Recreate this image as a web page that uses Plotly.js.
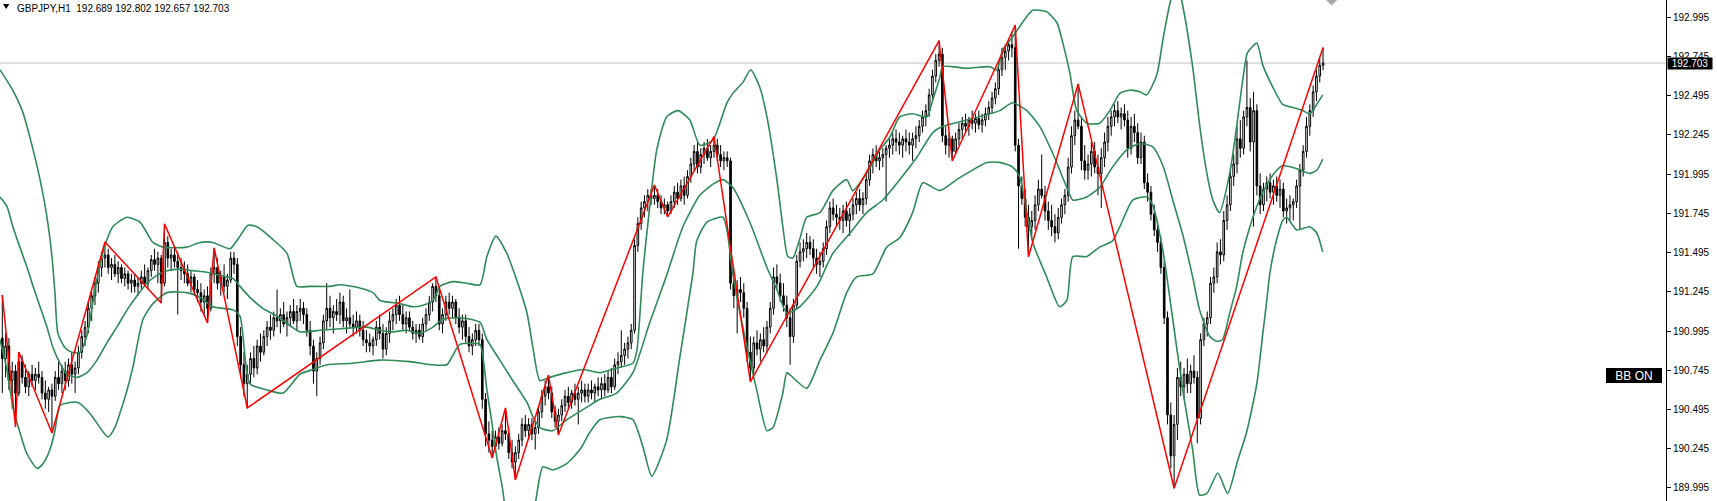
<!DOCTYPE html>
<html>
<head>
<meta charset="utf-8">
<script src="https://cdn.plot.ly/plotly-3.0.1.min.js"></script>
<style>html,body{margin:0;padding:0;background:#fff;}#chart{width:1717px;height:501px;}</style>
</head>
<body>
<div id="chart"></div>
<script>
// ---- OHLC data (GBPJPY H1), one value per bar ----
const opens = [
190.95,190.82,190.90,190.68,190.74,190.60,190.80,190.70,190.64,190.72,190.68,190.72,190.70,190.60,190.56,190.62,190.58,190.70,190.66,190.74,
190.68,190.78,190.72,190.76,190.86,190.96,191.02,191.14,191.22,191.30,191.40,191.46,191.48,191.40,191.42,191.36,191.40,191.33,191.36,191.30,
191.32,191.28,191.30,191.34,191.30,191.38,191.45,191.42,191.46,191.30,191.56,191.46,191.48,191.44,191.40,191.38,191.36,191.30,191.34,191.26,
191.24,191.18,191.22,191.14,191.36,191.40,191.30,191.34,191.28,191.32,191.46,191.42,190.96,190.78,190.66,190.72,190.82,190.76,190.90,190.86,
190.96,191.02,191.00,191.08,191.06,191.10,191.04,191.08,191.12,191.06,191.12,191.14,191.10,191.00,190.90,190.74,190.82,190.92,191.06,191.14,
191.08,191.12,191.10,191.18,191.06,191.08,191.04,191.02,191.06,191.00,190.94,190.92,190.90,190.94,191.02,190.98,190.88,190.98,191.06,191.10,
191.16,191.10,191.04,191.08,191.02,190.98,191.00,190.96,191.04,191.10,191.18,191.28,191.22,191.04,191.10,191.18,191.14,191.18,191.08,191.02,
191.06,190.96,190.90,190.94,191.00,190.94,190.56,190.34,190.30,190.26,190.32,190.28,190.36,190.34,190.22,190.16,190.22,190.30,190.40,190.36,
190.40,190.34,190.38,190.48,190.58,190.64,190.60,190.48,190.42,190.46,190.52,190.58,190.54,190.60,190.56,190.60,190.62,190.58,190.62,190.60,
190.64,190.62,190.66,190.62,190.70,190.64,190.78,190.80,190.84,190.88,190.92,191.00,191.54,191.68,191.78,191.82,191.86,191.84,191.86,191.82,
191.78,191.80,191.76,191.82,191.88,191.84,191.92,191.86,191.98,192.06,192.14,192.04,192.12,192.16,192.10,192.14,192.18,192.12,192.08,192.10,
192.08,191.30,191.22,191.26,191.24,191.14,190.86,190.76,190.92,190.88,190.94,190.90,191.02,191.14,191.34,191.30,191.22,191.16,191.08,190.96,
191.16,191.44,191.50,191.52,191.56,191.52,191.46,191.42,191.44,191.52,191.66,191.78,191.74,191.72,191.70,191.76,191.70,191.74,191.80,191.84,
191.80,191.84,191.96,192.08,192.12,192.08,192.10,192.12,192.16,192.18,192.22,192.20,192.18,192.22,192.20,192.18,192.22,192.24,192.30,192.36,
192.40,192.50,192.62,192.72,192.76,192.24,192.18,192.22,192.14,192.22,192.28,192.32,192.30,192.34,192.32,192.35,192.31,192.34,192.38,192.42,
192.48,192.54,192.66,192.74,192.78,192.82,192.80,192.18,191.92,191.84,191.72,191.66,191.70,191.80,191.90,191.86,191.76,191.70,191.66,191.62,
191.72,191.80,191.86,192.04,192.24,192.34,192.30,192.08,192.02,192.06,192.14,192.04,192.00,192.10,192.20,192.30,192.36,192.40,192.36,192.38,
192.34,192.16,192.30,192.26,192.10,192.20,191.94,191.88,191.74,191.64,191.56,191.40,191.08,190.46,190.20,190.40,190.70,190.64,190.72,190.66,
190.74,190.70,190.44,190.94,191.04,191.08,191.30,191.34,191.50,191.48,191.70,191.80,191.98,192.06,192.22,192.16,192.36,192.42,192.20,192.40,
191.92,191.80,191.90,191.94,191.88,191.92,191.86,191.90,191.76,191.78,191.80,191.82,191.92,192.02,192.14,192.30,192.40,192.52,192.62,192.689
];
const highs = [
191.225,190.98,190.95,190.80,190.78,190.862,190.84,190.78,190.74,190.78,190.76,190.80,190.74,190.68,190.64,190.66,190.74,190.80,190.78,190.80,
190.82,190.86,190.80,190.90,191.00,191.06,191.18,191.26,191.34,191.44,191.50,191.563,191.52,191.46,191.48,191.44,191.42,191.40,191.38,191.36,
191.36,191.34,191.38,191.42,191.40,191.48,191.52,191.50,191.48,191.678,191.60,191.52,191.54,191.50,191.46,191.44,191.42,191.38,191.36,191.32,
191.30,191.26,191.28,191.40,191.525,191.46,191.38,191.42,191.36,191.50,191.50,191.46,191.02,190.86,190.78,190.86,190.90,190.94,190.98,191.00,
191.06,191.10,191.12,191.26,191.14,191.18,191.12,191.16,191.20,191.16,191.20,191.18,191.14,191.06,190.94,190.86,190.96,191.10,191.30,191.22,
191.16,191.20,191.24,191.22,191.14,191.26,191.10,191.12,191.10,191.06,191.00,190.98,190.96,191.06,191.10,191.04,191.02,191.12,191.14,191.20,
191.22,191.16,191.12,191.12,191.06,191.04,191.04,191.08,191.14,191.22,191.30,191.340,191.28,191.14,191.22,191.24,191.22,191.20,191.14,191.10,
191.10,191.02,190.98,191.04,191.04,190.98,190.60,190.42,190.36,190.36,190.38,190.40,190.505,190.38,190.30,190.26,190.34,190.44,190.46,190.44,
190.44,190.42,190.52,190.62,190.68,190.715,190.64,190.52,190.50,190.56,190.62,190.64,190.62,190.66,190.64,190.68,190.66,190.66,190.68,190.66,
190.70,190.70,190.72,190.74,190.76,190.82,190.86,191.00,190.92,190.96,191.04,191.58,191.72,191.82,191.86,191.90,191.90,191.926,191.90,191.86,
191.84,191.82,191.86,191.92,191.94,191.96,191.98,192.02,192.10,192.18,192.20,192.16,192.20,192.22,192.18,192.234,192.22,192.18,192.14,192.14,
192.10,191.38,191.32,191.34,191.30,191.18,190.96,190.96,191.00,190.98,191.02,191.06,191.18,191.40,191.42,191.36,191.30,191.22,191.14,191.20,
191.48,191.56,191.58,191.62,191.60,191.58,191.52,191.50,191.56,191.70,191.82,191.84,191.80,191.78,191.80,191.82,191.78,191.84,191.88,191.90,
191.88,192.00,192.12,192.16,192.18,192.14,192.16,192.18,192.22,192.26,192.28,192.26,192.24,192.28,192.26,192.26,192.30,192.34,192.40,192.44,
192.54,192.66,192.76,192.846,192.80,192.30,192.26,192.24,192.26,192.32,192.36,192.38,192.36,192.40,192.38,192.40,192.38,192.42,192.46,192.52,
192.58,192.70,192.80,192.82,192.86,192.90,192.946,192.22,191.98,191.90,191.80,191.76,191.86,191.96,192.12,191.92,191.82,191.80,191.74,191.78,
191.84,191.90,192.10,192.30,192.40,192.570,192.36,192.18,192.12,192.20,192.20,192.12,192.16,192.26,192.36,192.40,192.44,192.46,192.42,192.44,
192.40,192.36,192.38,192.32,192.26,192.24,192.00,191.92,191.80,191.70,191.60,191.44,191.12,190.54,190.46,190.76,190.80,190.76,190.82,190.78,
190.84,190.74,190.98,191.08,191.12,191.34,191.40,191.56,191.58,191.76,191.86,192.04,192.12,192.30,192.34,192.40,192.72,192.48,192.52,192.44,
192.00,191.94,191.98,192.00,191.96,191.98,191.96,191.94,191.84,191.86,191.84,191.96,192.06,192.18,192.36,192.44,192.56,192.66,192.74,192.802
];
const lows = [
190.60,190.70,190.62,190.50,190.384,190.58,190.66,190.60,190.58,190.64,190.62,190.66,190.56,190.50,190.48,190.345,190.55,190.62,190.60,190.62,
190.64,190.66,190.60,190.72,190.82,190.90,190.98,191.06,191.16,191.24,191.34,191.40,191.36,191.32,191.34,191.30,191.30,191.28,191.26,191.24,
191.24,191.22,191.26,191.28,191.26,191.34,191.38,191.30,191.174,191.28,191.40,191.38,191.40,191.10,191.32,191.30,191.28,191.24,191.22,191.18,
191.12,191.10,191.047,191.12,191.30,191.26,191.22,191.24,191.20,191.30,191.36,190.90,190.70,190.58,190.505,190.66,190.70,190.72,190.80,190.84,
190.90,190.94,190.96,191.02,190.98,191.02,190.96,191.02,191.04,191.00,191.06,191.04,190.96,190.84,190.66,190.58,190.78,190.88,191.00,191.02,
190.98,191.06,191.04,191.02,190.98,191.02,190.96,190.98,190.96,190.90,190.86,190.86,190.84,190.90,190.94,190.82,190.84,190.92,191.00,191.04,
191.06,191.00,190.98,191.00,190.94,190.92,190.94,190.92,191.00,191.06,191.12,191.18,191.00,190.98,191.06,191.10,191.08,191.04,190.98,190.94,
190.92,190.86,190.84,190.90,190.90,190.50,190.26,190.22,190.186,190.22,190.24,190.26,190.30,190.18,190.12,190.046,190.18,190.26,190.32,190.30,
190.30,190.24,190.34,190.44,190.52,190.56,190.44,190.38,190.333,190.42,190.48,190.50,190.50,190.52,190.40,190.54,190.54,190.54,190.56,190.54,
190.58,190.56,190.58,190.60,190.60,190.62,190.72,190.76,190.78,190.82,190.88,190.98,191.50,191.64,191.72,191.76,191.80,191.80,191.78,191.74,
191.74,191.722,191.74,191.78,191.80,191.82,191.80,191.84,191.94,192.02,192.00,192.00,192.06,192.08,192.04,192.10,192.08,192.04,192.02,192.04,
191.26,191.14,190.98,191.18,191.08,190.80,190.671,190.72,190.84,190.80,190.86,190.86,190.98,191.10,191.26,191.18,191.12,191.02,190.78,190.92,
191.14,191.40,191.44,191.46,191.48,191.40,191.36,191.34,191.40,191.48,191.62,191.70,191.66,191.64,191.62,191.66,191.60,191.70,191.74,191.76,
191.74,191.80,191.92,192.00,192.04,192.02,192.04,191.82,192.10,192.12,192.14,192.12,192.10,192.14,192.12,192.08,192.16,192.20,192.26,192.30,
192.36,192.46,192.58,192.68,192.20,192.12,192.10,192.079,192.12,192.18,192.22,192.26,192.24,192.28,192.26,192.28,192.26,192.30,192.34,192.38,
192.44,192.50,192.62,192.66,192.72,192.74,192.14,191.52,191.80,191.66,191.469,191.58,191.64,191.76,191.84,191.70,191.64,191.60,191.56,191.58,
191.68,191.74,191.82,192.00,192.18,192.28,192.02,191.96,191.96,191.98,192.00,191.86,191.78,192.04,192.14,192.24,192.30,192.32,192.28,192.30,
192.10,192.12,192.20,192.06,192.06,191.90,191.82,191.70,191.60,191.50,191.36,191.04,190.40,190.12,189.993,190.30,190.58,190.56,190.60,190.60,
190.66,190.28,190.40,190.90,190.96,191.04,191.24,191.30,191.42,191.44,191.64,191.76,191.92,192.00,192.10,192.12,192.30,192.14,191.66,191.86,
191.74,191.76,191.82,191.84,191.80,191.82,191.78,191.72,191.68,191.70,191.70,191.78,191.64,191.98,192.10,192.24,192.36,192.46,192.58,192.657
];
const closes = [
190.82,190.90,190.68,190.74,190.60,190.80,190.70,190.64,190.72,190.68,190.72,190.70,190.60,190.56,190.62,190.58,190.70,190.66,190.74,190.68,
190.78,190.72,190.76,190.86,190.96,191.02,191.14,191.22,191.30,191.40,191.46,191.48,191.40,191.42,191.36,191.40,191.33,191.36,191.30,191.32,
191.28,191.30,191.34,191.30,191.38,191.45,191.42,191.46,191.30,191.56,191.46,191.48,191.44,191.40,191.38,191.36,191.30,191.34,191.26,191.24,
191.18,191.22,191.14,191.36,191.40,191.30,191.34,191.28,191.32,191.46,191.42,190.96,190.78,190.66,190.72,190.82,190.76,190.90,190.86,190.96,
191.02,191.00,191.08,191.06,191.10,191.04,191.08,191.12,191.06,191.12,191.14,191.10,191.00,190.90,190.74,190.82,190.92,191.06,191.14,191.08,
191.12,191.10,191.18,191.06,191.08,191.04,191.02,191.06,191.00,190.94,190.92,190.90,190.94,191.02,190.98,190.88,190.98,191.06,191.10,191.16,
191.10,191.04,191.08,191.02,190.98,191.00,190.96,191.04,191.10,191.18,191.28,191.22,191.04,191.10,191.18,191.14,191.18,191.08,191.02,191.06,
190.96,190.90,190.94,191.00,190.94,190.56,190.34,190.30,190.26,190.32,190.28,190.36,190.34,190.22,190.16,190.22,190.30,190.40,190.36,190.40,
190.34,190.38,190.48,190.58,190.64,190.60,190.48,190.42,190.46,190.52,190.58,190.54,190.60,190.56,190.60,190.62,190.58,190.62,190.60,190.64,
190.62,190.66,190.62,190.70,190.64,190.78,190.80,190.84,190.88,190.92,191.00,191.54,191.68,191.78,191.82,191.86,191.84,191.86,191.82,191.78,
191.80,191.76,191.82,191.88,191.84,191.92,191.86,191.98,192.06,192.14,192.04,192.12,192.16,192.10,192.14,192.18,192.12,192.08,192.10,192.08,
191.30,191.22,191.26,191.24,191.14,190.86,190.76,190.92,190.88,190.94,190.90,191.02,191.14,191.34,191.30,191.22,191.16,191.08,190.96,191.16,
191.44,191.50,191.52,191.56,191.52,191.46,191.42,191.44,191.52,191.66,191.78,191.74,191.72,191.70,191.76,191.70,191.74,191.80,191.84,191.80,
191.84,191.96,192.08,192.12,192.08,192.10,192.12,192.16,192.18,192.22,192.20,192.18,192.22,192.20,192.18,192.22,192.24,192.30,192.36,192.40,
192.50,192.62,192.72,192.76,192.24,192.18,192.22,192.14,192.22,192.28,192.32,192.30,192.34,192.32,192.35,192.31,192.34,192.38,192.42,192.48,
192.54,192.66,192.74,192.78,192.82,192.80,192.18,191.92,191.84,191.72,191.66,191.70,191.80,191.90,191.86,191.76,191.70,191.66,191.62,191.72,
191.80,191.86,192.04,192.24,192.34,192.30,192.08,192.02,192.06,192.14,192.04,192.00,192.10,192.20,192.30,192.36,192.40,192.36,192.38,192.34,
192.16,192.30,192.26,192.10,192.20,191.94,191.88,191.74,191.64,191.56,191.40,191.08,190.46,190.20,190.40,190.70,190.64,190.72,190.66,190.74,
190.70,190.44,190.94,191.04,191.08,191.30,191.34,191.50,191.48,191.70,191.80,191.98,192.06,192.22,192.16,192.36,192.42,192.20,192.40,191.92,
191.80,191.90,191.94,191.88,191.92,191.86,191.90,191.76,191.78,191.80,191.82,191.92,192.02,192.14,192.30,192.40,192.52,192.62,192.689,192.703
];

// ---- Bollinger bands (bar index, price) ----
const bbUpperBar = [-0.7,2.9,6.2,9.3,11.4,13.5,15.0,15.9,16.8,18.9,21.0,23.5,25.6,28.0,29.5,31.3,33.4,37.7,41.6,43.7,45.5,48.5,55.8,59.7,63.6,68.8,71.8,74.2,76.9,81.7,86.0,89.0,92.9,99.0,102.0,108.0,112.0,114.1,120.1,124.0,127.1,130.1,132.2,136.1,140.3,144.3,146.4,149.1,152.4,155.4,158.5,160.3,162.4,165.4,170.5,175.4,180.5,185.6,190.5,191.7,193.5,195.6,197.7,200.7,204.1,207.7,210.7,214.6,218.9,220.7,223.7,226.1,228.8,231.0,234.0,235.8,237.3,238.8,240.9,243.0,247.0,250.9,255.1,256.9,261.1,265.1,268.1,271.1,275.0,279.3,281.1,283.2,284.1,291.4,298.3,300.4,302.3,305.2,309.5,311.3,315.5,318.6,320.4,322.5,324.6,327.7,331.5,334.6,337.6,340.6,343.7,345.7,348.8,350.6,352.6,354.8,356.6,359.6,361.7,363.9,365.7,367.7,370.8,372.9,374.7,376.2,379.0,380.8,383.8,386.8,389.8,392.9,395.0,397.1,398.9];
const bbUpper = [192.66,192.54,192.39,192.15,191.96,191.72,191.47,191.24,190.98,190.89,190.86,190.86,190.97,191.26,191.42,191.56,191.66,191.72,191.69,191.62,191.56,191.53,191.53,191.56,191.56,191.52,191.60,191.67,191.66,191.58,191.49,191.28,191.28,191.28,191.29,191.27,191.24,191.19,191.17,191.15,191.16,191.19,191.28,191.31,191.30,191.29,191.47,191.60,191.49,191.32,191.11,190.89,190.68,190.70,190.73,190.75,190.73,190.76,190.79,190.87,191.37,191.79,192.15,192.36,192.40,192.34,192.18,192.21,192.45,192.51,192.58,192.66,192.55,192.36,191.96,191.66,191.47,191.46,191.58,191.72,191.75,191.89,191.96,191.89,192.00,192.15,192.23,192.36,192.38,192.36,192.47,192.61,192.68,192.67,192.68,192.66,192.79,192.87,193.00,193.04,193.03,192.96,192.83,192.64,192.40,192.32,192.32,192.40,192.51,192.53,192.52,192.50,192.63,192.85,193.07,193.23,193.07,192.68,192.31,192.00,191.83,191.75,192.00,192.30,192.59,192.77,192.83,192.69,192.55,192.44,192.42,192.40,192.38,192.44,192.50];
const bbMiddleBar = [-0.7,1.4,3.2,5.3,7.5,9.3,11.4,13.5,15.3,17.4,19.5,22.6,25.6,28.6,31.6,34.6,37.7,40.7,43.7,46.7,49.7,53.7,57.6,61.8,65.7,69.7,71.8,74.8,78.7,83.0,86.9,89.9,96.0,102.0,110.2,114.1,118.0,122.2,126.1,130.1,133.1,138.2,144.3,146.4,150.3,154.2,158.5,160.3,162.4,166.3,170.5,176.6,180.5,185.6,190.5,195.6,200.7,205.6,210.7,214.6,217.7,220.7,225.8,231.0,234.0,237.0,240.9,246.1,250.9,256.1,261.1,266.0,271.1,276.2,281.1,284.1,291.4,301.3,305.2,309.5,313.4,317.3,321.6,323.4,327.6,331.5,335.4,339.7,343.7,347.5,350.6,353.6,356.6,359.6,361.7,364.8,366.8,368.6,370.8,372.9,374.7,376.9,379.0,380.8,382.9,385.0,386.8,391.0,395.0,397.1,398.9];
const bbMiddle = [191.85,191.79,191.66,191.53,191.40,191.28,191.15,191.02,190.89,190.79,190.72,190.70,190.73,190.81,190.92,191.02,191.13,191.22,191.30,191.35,191.38,191.39,191.38,191.37,191.35,191.33,191.28,191.21,191.14,191.09,191.03,190.99,191.00,191.01,191.02,191.00,190.99,191.00,190.98,191.02,191.07,191.08,191.05,190.94,190.81,190.68,190.54,190.45,190.38,190.36,190.43,190.51,190.56,190.60,190.73,191.05,191.35,191.66,191.86,191.93,191.96,191.91,191.69,191.40,191.26,191.11,191.15,191.28,191.49,191.62,191.75,191.83,191.96,192.10,192.26,192.30,192.34,192.40,192.45,192.40,192.30,192.13,191.91,191.83,191.85,191.91,192.04,192.15,192.19,192.17,192.05,191.83,191.61,191.34,191.13,190.96,190.93,190.94,191.11,191.28,191.49,191.66,191.79,191.88,191.96,192.02,192.05,192.03,192.00,192.02,192.09];
const bbLowerBar = [-0.7,1.4,3.2,5.3,7.5,10.5,12.3,14.4,15.9,17.4,20.4,22.9,26.5,29.5,31.9,34.0,35.5,37.7,39.5,42.5,45.5,49.7,55.8,59.7,63.6,69.7,71.8,74.8,79.9,84.8,89.9,93.8,98.1,105.9,114.1,123.1,130.1,134.3,136.1,138.2,144.3,145.2,146.4,147.9,149.4,151.2,153.3,156.3,159.4,161.2,163.3,166.3,170.5,174.5,177.5,180.5,186.6,190.5,193.5,196.2,200.7,204.7,208.6,209.8,212.9,217.7,218.9,220.7,223.7,227.9,231.0,232.8,235.8,237.0,238.8,243.0,247.0,250.9,255.1,258.1,263.0,267.2,271.1,275.0,278.1,283.2,288.3,291.4,297.4,301.3,305.2,307.3,311.3,315.5,319.4,321.6,323.4,327.6,331.5,335.4,337.6,341.5,345.7,347.5,350.6,353.6,356.6,359.6,361.7,363.9,367.2,370.2,373.2,375.9,379.0,380.8,382.0,382.9,385.0,386.8,388.0,391.0,395.0,397.1,398.9];
const bbLower = [190.94,190.75,190.51,190.35,190.21,190.12,190.15,190.24,190.36,190.52,190.54,190.54,190.47,190.38,190.32,190.38,190.47,190.62,190.77,191.07,191.17,191.24,191.24,191.21,191.15,191.13,191.09,190.66,190.62,190.60,190.72,190.75,190.78,190.79,190.81,190.80,190.78,190.78,190.84,190.91,190.91,190.83,190.62,190.41,190.19,189.98,189.66,189.54,189.73,189.92,190.13,190.11,190.15,190.24,190.35,190.43,190.45,190.43,190.26,190.07,190.30,190.83,191.36,191.57,191.69,191.72,191.64,191.36,191.02,190.62,190.36,190.38,190.60,190.73,190.70,190.63,190.81,190.98,191.24,191.34,191.36,191.53,191.59,191.75,191.94,191.89,191.96,192.00,192.07,192.07,192.04,191.98,191.56,191.34,191.15,191.19,191.47,191.47,191.53,191.57,191.66,191.83,191.85,191.80,191.51,191.07,190.62,190.24,189.95,189.96,190.09,189.96,190.17,190.35,190.66,190.98,191.19,191.36,191.58,191.70,191.72,191.64,191.66,191.62,191.50];

// ---- ZigZag pivots (bar index, price) ----
const zigzagBar = [0,4,5,15,31,48,49,62,64,74,131,148,152,155,165,168,197,201,215,226,283,287,306,310,325,354,399];
const zigzagPrice = [191.225,190.384,190.862,190.345,191.563,191.174,191.678,191.047,191.525,190.505,191.340,190.186,190.505,190.046,190.715,190.333,191.926,191.722,192.234,190.671,192.846,192.079,192.946,191.469,192.570,189.993,192.802];

// ---- Axis ticks and labels ----
const tickValues = [192.995,192.745,192.495,192.245,191.995,191.745,191.495,191.245,190.995,190.745,190.495,190.245,189.995];
const tickLabels = ["192.995","192.745","192.495","192.245","191.995","191.745","191.495","191.245","190.995","190.745","190.495","190.245","189.995"];
const symbolTitle = "GBPJPY,H1\u00a0 192.689 192.802 192.657 192.703";
const lastPrice = 192.703;
const lastPriceLabel = "192.703";
const indicatorLabel = "BB ON";

const bars = opens.map((_, i) => i);
const FONT = "Liberation Sans, Arial, sans-serif";
const BB_COLOR = "#2e8b57";

const traces = [
  {
    type: "candlestick", x: bars, open: opens, high: highs, low: lows, close: closes,
    increasing: {line: {color: "#000000", width: 1}, fillcolor: "#ffffff"},
    decreasing: {line: {color: "#000000", width: 1}, fillcolor: "#000000"},
    whiskerwidth: 0, hoverinfo: "skip", showlegend: false
  },
  {type: "scatter", mode: "lines", x: bbUpperBar, y: bbUpper, line: {color: BB_COLOR, width: 1.6, shape: "spline", smoothing: 0.6}, hoverinfo: "skip"},
  {type: "scatter", mode: "lines", x: bbMiddleBar, y: bbMiddle, line: {color: BB_COLOR, width: 1.6, shape: "spline", smoothing: 0.6}, hoverinfo: "skip"},
  {type: "scatter", mode: "lines", x: bbLowerBar, y: bbLower, line: {color: BB_COLOR, width: 1.6, shape: "spline", smoothing: 0.6}, hoverinfo: "skip"},
  {type: "scatter", mode: "lines", x: zigzagBar, y: zigzagPrice, line: {color: "#ff0000", width: 1.5}, hoverinfo: "skip"}
];

const W = 1717, H = 501, plotW = 1666;
const layout = {
  width: W, height: H,
  margin: {l: 0, r: W - plotW, t: 0, b: 0, pad: 0},
  paper_bgcolor: "#ffffff", plot_bgcolor: "#ffffff",
  showlegend: false, hovermode: false,
  font: {family: FONT, size: 10, color: "#000000"},
  xaxis: {
    range: [-0.695, 502.6], showgrid: false, zeroline: false, showticklabels: false, ticks: "",
    rangeslider: {visible: false}, showline: true, side: "top", linecolor: "#a0a0a0", linewidth: 1, fixedrange: true
  },
  yaxis: {
    range: [189.912, 193.105], side: "right", showgrid: false, zeroline: false,
    showline: true, linecolor: "#000000", linewidth: 1,
    ticks: "outside", ticklen: 4, tickcolor: "#000000", tickwidth: 1,
    tickmode: "array", tickvals: tickValues, ticktext: tickLabels,
    tickfont: {family: FONT, size: 10, color: "#000000"}, fixedrange: true
  },
  shapes: [
    {type: "line", xref: "paper", yref: "y", x0: 0, x1: 1, y0: lastPrice, y1: lastPrice, line: {color: "#c0c0c0", width: 1}, layer: "below"},
    {type: "path", xref: "paper", yref: "paper", path: "M 0.0018 0.992 L 0.0056 0.992 L 0.0037 0.982 Z", fillcolor: "#000000", line: {width: 0}},
    {type: "path", xref: "paper", yref: "paper", path: "M 0.7960 1 L 0.8026 1 L 0.7993 0.989 Z", fillcolor: "#a8a8a8", line: {width: 0}}
  ],
  annotations: [
    {xref: "paper", yref: "paper", x: 15 / plotW, y: 1, xanchor: "left", yanchor: "top", yshift: -1,
     text: symbolTitle, showarrow: false, font: {family: FONT, size: 10, color: "#000000"}},
    {xref: "paper", yref: "y", x: 1, y: lastPrice, xanchor: "left", yanchor: "middle", xshift: 1,
     text: lastPriceLabel, showarrow: false, bgcolor: "#000000", width: 44, height: 11, borderpad: 0,
     font: {family: FONT, size: 10, color: "#ffffff"}},
    {xref: "paper", yref: "paper", x: 1634 / plotW, y: 1 - 375.5 / H, xanchor: "center", yanchor: "middle",
     text: indicatorLabel, showarrow: false, bgcolor: "#000000", bordercolor: "#000000", borderwidth: 1,
     width: 54, height: 13, borderpad: 0, font: {family: FONT, size: 12, color: "#ffffff"}}
  ]
};

Plotly.newPlot("chart", traces, layout, {staticPlot: true, displayModeBar: false});
</script>
</body>
</html>
